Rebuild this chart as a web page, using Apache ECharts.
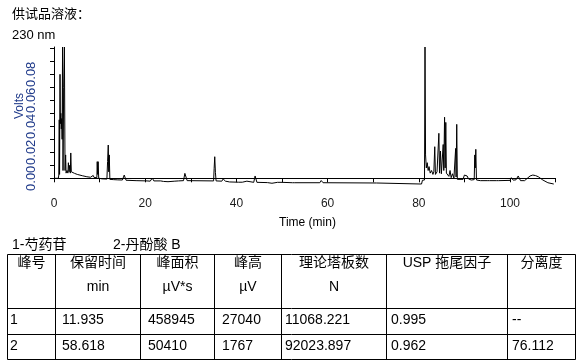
<!DOCTYPE html>
<html><head><meta charset="utf-8">
<script src="https://cdn.jsdelivr.net/npm/echarts@6/dist/echarts.min.js"></script>
<style>html,body{margin:0;padding:0;background:#fff}#c{width:579px;height:363px}</style>
</head><body><div id="c"></div>
<script>
// ---------------- DATA ----------------
const traceTime = [
  0.05,0.95,1.05,1.15,1.22,1.32,1.40,1.50,1.60,1.70,1.78,1.88,1.98,2.12,2.28,2.42,2.55,2.65,2.85,3.05,
  3.15,3.30,3.45,3.58,3.68,3.80,4.50,5.10,5.30,5.50,6.20,6.40,6.60,7.20,8.00,8.40,8.60,8.80,9.40,9.48,
  9.58,9.68,9.80,10.50,11.60,11.75,11.90,12.00,12.12,12.25,13.00,14.00,15.00,15.40,15.80,18.00,20.40,20.70,21.10,21.55,
  21.90,23.40,23.70,24.00,25.00,26.50,26.90,27.30,28.40,28.70,29.20,35.00,35.12,35.25,35.40,35.55,36.80,37.10,37.60,38.50,
  40.50,40.80,41.30,42.30,42.70,43.80,44.10,44.50,46.80,47.00,47.80,48.00,49.00,49.30,50.00,52.30,52.50,52.80,58.30,58.60,
  59.00,70.70,70.90,80.60,80.80,81.25,81.36,81.48,81.65,81.85,82.05,82.25,82.50,82.80,83.10,83.30,83.50,83.65,84.00,84.40,
  84.55,84.75,84.95,85.20,85.35,85.48,85.65,85.78,85.92,86.05,86.35,86.60,86.85,87.10,87.40,87.70,88.00,88.08,88.18,88.32,
  88.45,89.70,90.00,90.30,90.60,90.90,91.20,91.50,92.15,92.28,92.38,92.50,92.65,93.50,95.00,95.20,95.50,97.00,97.20,97.50,
  100.00,100.30,100.70,101.00,101.30,101.80,102.30,103.20,103.80,104.40,105.00,105.60,106.20,107.20,108.30,109.60
];
const traceVolts = [
  0.0000,0.0000,0.0025,0.0450,0.0030,0.0800,0.0420,0.0500,0.0380,0.0460,0.0300,0.1010,0.0060,0.0700,0.1010,0.0060,0.0180,0.0040,0.0060,0.0040,
  0.0120,0.0050,0.0100,0.0040,0.0195,0.0050,0.0038,0.0030,0.0042,0.0025,0.0020,0.0028,0.0015,0.0012,0.0008,0.0008,0.0022,0.0006,0.0005,0.0128,
  0.0030,0.0128,0.0001,-0.0004,-0.0006,0.0130,0.0256,0.0050,0.0180,-0.0008,-0.0010,-0.0012,-0.0013,0.0025,-0.0015,-0.0018,-0.0020,-0.0026,-0.0022,0.0002,
  -0.0020,-0.0020,-0.0017,-0.0024,-0.0026,-0.0022,-0.0012,-0.0020,-0.0018,0.0038,-0.0018,-0.0020,0.0077,0.0166,0.0043,-0.0020,-0.0022,-0.0005,-0.0022,-0.0028,
  -0.0030,-0.0022,-0.0030,-0.0022,-0.0031,-0.0031,0.0018,-0.0031,-0.0033,-0.0038,-0.0038,-0.0033,-0.0031,-0.0036,-0.0031,-0.0034,-0.0029,-0.0034,-0.0034,-0.0017,
  -0.0034,-0.0036,-0.0044,-0.0044,-0.0015,-0.0013,0.1010,0.0180,0.0080,0.0120,0.0060,0.0090,0.0040,0.0060,0.0030,0.0050,0.0243,0.0030,0.0050,0.0346,
  0.0040,0.0210,0.0035,0.0045,0.0260,0.0060,0.0470,0.0080,0.0430,0.0040,0.0055,0.0015,0.0060,0.0005,0.0035,0.0000,0.0000,0.0230,0.0010,0.0415,
  -0.0008,-0.0008,0.0025,0.0010,0.0018,-0.0005,0.0005,-0.0013,-0.0010,0.0180,0.0080,0.0223,-0.0013,-0.0018,-0.0018,-0.0012,-0.0018,-0.0018,-0.0014,-0.0018,
  -0.0016,0.0005,-0.0014,-0.0018,-0.0012,0.0018,-0.0018,-0.0018,0.0000,0.0018,0.0025,0.0021,0.0012,-0.0013,-0.0034,-0.0044
];
const xTickLabels = [0, 20, 40, 60, 80, 100];
const yTickValues = [0, 0.01, 0.02, 0.03, 0.04, 0.05, 0.06, 0.07, 0.08, 0.09, 0.10];
const yLabelValues = [0, 0.02, 0.04, 0.06, 0.08];
const peakNames = ['1', '2'];
const peakTimes = [11.9, 58.6];
const peakVolts = [0.0256, -0.0017];
const titleText = '供试品溶液：';
const wavelengthText = '230 nm';
const xAxisTitle = 'Time (min)';
const yAxisTitle = 'Volts';
const legendItems = ['1-芍药苷', '2-丹酚酸 B'];
const headerLine1 = ['峰号', '保留时间', '峰面积', '峰高', '理论塔板数', 'USP 拖尾因子', '分离度'];
const headerLine2 = ['', 'min', 'µV*s', 'µV', 'N', '', ''];
const tableRows = [
  ['1', '11.935', '458945', '27040', '11068.221', '0.995', '--'],
  ['2', '58.618', '50410', '1767', '92023.897', '0.962', '76.112']
];

// ---------------- LAYOUT ----------------
const FONT = '"Liberation Sans", Arial, "Noto Sans CJK SC", sans-serif';
const colEdges = [7.5, 55.5, 140.5, 214.5, 281.5, 386.5, 507.5, 575.5];
const rowEdges = [254.5, 308.5, 334.5, 359.5];
const cellTextX = [10, 62, 148, 222, 285, 391, 512];
const headerY = [263, 287];
const rowY = [320, 346];

const graphics = [];
function txt(text, x, y, size, align, color, rot) {
  graphics.push({
    type: 'text', x: x, y: y, rotation: rot || 0, silent: true,
    style: { text: text, font: size + 'px ' + FONT, fill: color || '#000',
      align: align || 'left', textAlign: align || 'left',
      verticalAlign: 'middle', textVerticalAlign: 'middle' }
  });
}
function ln(x1, y1, x2, y2) {
  graphics.push({ type: 'line', silent: true, shape: { x1: x1, y1: y1, x2: x2, y2: y2 },
    style: { stroke: '#000', lineWidth: 1 } });
}
txt(titleText, 12, 14, 13);
txt(wavelengthText, 12, 35, 13);
txt(yAxisTitle, 19.5, 106, 12, 'center', '#1f3a8a', Math.PI / 2);
txt(xAxisTitle, 307.5, 222.5, 12, 'center');
txt(legendItems[0], 12, 245, 14);
txt(legendItems[1], 113, 245, 14);
rowEdges.forEach(y => ln(colEdges[0], y, colEdges[colEdges.length - 1], y));
colEdges.forEach(x => ln(x, rowEdges[0], x, rowEdges[rowEdges.length - 1]));
headerLine1.forEach((t, i) => txt(t, (colEdges[i] + colEdges[i + 1]) / 2, headerY[0], 14, 'center'));
headerLine2.forEach((t, i) => { if (t) txt(t, (colEdges[i] + colEdges[i + 1]) / 2, headerY[1], 14, 'center'); });
tableRows.forEach((row, r) => row.forEach((t, i) => txt(t, cellTextX[i], rowY[r], 14)));

const chart = echarts.init(document.getElementById('c'), null, { renderer: 'canvas' });
chart.setOption({
  animation: false,
  backgroundColor: '#fff',
  grid: { left: 54, right: 23.4, top: 47, bottom: 183, containLabel: false, outerBoundsMode: 'none' },
  xAxis: {
    type: 'value', min: 0, max: 110, interval: 10, offset: 9,
    axisLine: { show: true, lineStyle: { color: '#000', width: 1 } },
    axisTick: { show: true, length: 4, lineStyle: { color: '#000' } },
    axisLabel: { customValues: xTickLabels, margin: 9, fontSize: 12, fontFamily: FONT, color: '#1a1a1a' },
    splitLine: { show: false }
  },
  yAxis: {
    type: 'value', min: -0.0013, max: 0.101,
    axisLine: { show: true, lineStyle: { color: '#000', width: 1 } },
    axisTick: { show: true, length: 4, customValues: yTickValues, lineStyle: { color: '#000' } },
    axisLabel: { customValues: yLabelValues, rotate: 90, margin: 16, fontSize: 13, fontFamily: FONT,
      color: '#1f3a8a', formatter: v => v.toFixed(2) },
    splitLine: { show: false }
  },
  series: [
    {
      type: 'line', clip: false, symbol: 'none', silent: true,
      data: traceTime.map((t, i) => [t, traceVolts[i]]),
      lineStyle: { color: '#000', width: 1 }
    },
    {
      type: 'scatter', clip: false, symbolSize: 1, silent: true,
      itemStyle: { opacity: 0 },
      data: peakTimes.map((t, i) => [t, peakVolts[i], peakNames[i]]),
      label: { show: true, position: 'top', distance: 5, formatter: p => p.value[2],
        fontSize: 12, fontFamily: FONT, color: '#000' }
    }
  ],
  graphic: graphics
});
</script></body></html>
